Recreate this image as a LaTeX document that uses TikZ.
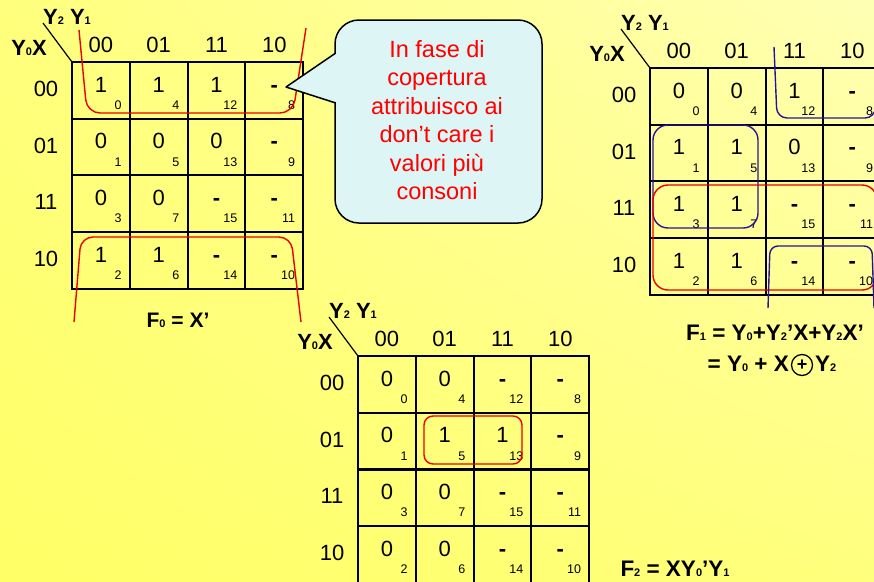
\documentclass[tikz,border=0pt]{standalone}
\usepackage{fontspec}
\setmainfont{Liberation Sans}
\usetikzlibrary{calc,shadings}

\definecolor{bgdeep}{RGB}{255,255,102}
\definecolor{bgmid}{RGB}{255,255,125}
\definecolor{bglight}{RGB}{255,255,180}
\definecolor{loopred}{RGB}{235,0,0}
\definecolor{loopblue}{RGB}{40,20,150}
\definecolor{notefill}{RGB}{222,245,245}
\definecolor{notered}{RGB}{255,0,0}

% don't-care entry
\newcommand\dc{\textbf{-}}
% small digit written after a variable name
\newcommand\lowidx[1]{{\fontsize{11}{11}\selectfont #1}}
% cell size of the Karnaugh maps
\def\cw{57.8}
\def\ch{56.7}

\tikzset{
  gridline/.style={line width=2pt, line cap=rect},
  cellval/.style={inner sep=0pt, anchor=base, font=\fontsize{22}{22}\selectfont},
  cellidx/.style={inner sep=0pt, anchor=base east, font=\fontsize{12.5}{12.5}\selectfont},
  hdr/.style={inner sep=0pt, font=\fontsize{22}{22}\selectfont},
  varlab/.style={inner sep=0pt, font=\bfseries\fontsize{22}{22}\selectfont},
  formula/.style={inner sep=0pt, font=\bfseries\fontsize{21}{21}\selectfont},
  bigformula/.style={inner sep=0pt, font=\bfseries\fontsize{22.5}{22.5}\selectfont},
  redloop/.style={draw=loopred, line width=1.4pt},
  blueloop/.style={draw=loopblue, line width=1.4pt},
}

% \kmap{name}{x of top-left corner}{y of top-left corner}{value/index pairs, row by row}
\newcommand\kmap[4]{%
  \begin{scope}[shift={(#2,#3)}]
    \coordinate (#1-nw) at (0,0);
    \foreach \kk in {0,...,4}{
      \draw[gridline] (0,{\kk*\ch}) -- ({4*\cw},{\kk*\ch});
      \draw[gridline] ({\kk*\cw},0) -- ({\kk*\cw},{4*\ch});
    }
    \foreach \cval/\cidx [count=\cnt from 0] in {#4}{
      \pgfmathtruncatemacro\kr{div(\cnt,4)}
      \pgfmathtruncatemacro\kc{mod(\cnt,4)}
      \node[cellval] (#1-v\cidx) at ({(\kc+0.5)*\cw},{\kr*\ch+30}) {\cval};
      \node[cellidx] (#1-i\cidx) at ({(\kc+1)*\cw-8},{\kr*\ch+47.5}) {\cidx};
    }
    \foreach \lab [count=\jj from 0] in {00,01,11,10}{
      \node[hdr] (#1-col\jj) at ({(\jj+0.5)*\cw},-17.5) {\lab};
      \node[hdr] (#1-row\jj) at (-26,{(\jj+0.5)*\ch-1.5}) {\lab};
    }
    \node[varlab] (#1-cols) at (-5,-45) {Y\lowidx{2} Y\lowidx{1}};
    \node[varlab] (#1-rows) at (-43,-14) {Y\lowidx{0}X};
    \draw[line width=1.2pt] (#1-nw) -- ++(-29,-39);
  \end{scope}}

\begin{document}
\begin{tikzpicture}[x=1pt, y=-1pt]
  % page background
  \shade[upper left=bgmid, upper right=bglight, lower left=bgdeep, lower right=bgmid]
    (0,0) rectangle (874,581);
  \useasboundingbox (0,0) rectangle (874,581);

  % F0 map
  \kmap{A}{72}{62}{1/0,1/4,1/12,\dc/8,0/1,0/5,0/13,\dc/9,0/3,0/7,\dc/15,\dc/11,1/2,1/6,\dc/14,\dc/10}
  % F1 map
  \kmap{B}{650}{68}{0/0,0/4,1/12,\dc/8,1/1,1/5,0/13,\dc/9,1/3,1/7,\dc/15,\dc/11,1/2,1/6,\dc/14,\dc/10}
  % F2 map
  \kmap{C}{358}{356}{0/0,0/4,\dc/12,\dc/8,0/1,1/5,1/13,\dc/9,0/3,0/7,\dc/15,\dc/11,0/2,0/6,\dc/14,\dc/10}
  \draw[line width=3.5pt] (358,{356+2*\ch}) -- ({358+4*\cw},{356+2*\ch});

  % coverings of F0
  \draw[redloop, rounded corners=13pt] (79,30) -- (87,113) -- (293,113) -- (306,28);
  \draw[redloop, rounded corners=12pt] (74,322) -- (81,237) -- (291,237) -- (301,322);

  % coverings of F1
  \draw[blueloop, rounded corners=10pt] (774,47) -- (777,118) -- (875,118) -- (879,40);
  \draw[blueloop, rounded corners=15pt] (653,125) rectangle (758,228);
  \draw[redloop, rounded corners=15pt] (653,185) rectangle (877,290);
  \draw[blueloop, rounded corners=8pt] (768,308) -- (770,246) -- (872,246) -- (874,308);

  % covering of F2
  \draw[redloop, rounded corners=9pt] (424,416) rectangle (522,464);

  % speech bubble
  \node[draw, line width=1.5pt, fill=notefill, rounded corners=24pt,
        minimum width=207pt, minimum height=203pt] (note) at (438.5,121.5) {};
  \coordinate (tip) at (286,87);
  \fill[notefill] (tip) -- (335.75,53) -- (338,53) -- (338,103) -- (335.75,103) -- cycle;
  \draw[line width=1.5pt, line join=round] (335.75,53) -- (tip) -- (335.75,103);
  \node[align=center, text=notered, inner sep=0pt, font=\fontsize{23.5}{28.5}\selectfont]
    (notebody) at (437,120) {In fase di\\copertura\\attribuisco ai\\don’t care i\\valori più\\consoni};

  % resulting expressions
  \node[formula] (f0) at (178,320) {F\lowidx{0} = X’};
  \node[bigformula] (f1a) at (775,333) {F\lowidx{1} = Y\lowidx{0}+Y\lowidx{2}’X+Y\lowidx{2}X’};
  \node[bigformula, anchor=east] (f1b) at (789,364) {= Y\lowidx{0} + X};
  \node[draw, circle, line width=1.3pt, minimum size=21pt, inner sep=0pt,
        font=\bfseries\fontsize{18}{18}\selectfont] (xor) at (802,365) {+};
  \node[bigformula, anchor=west] (f1c) at (815,364) {Y\lowidx{2}};
  \node[bigformula] (f2) at (675,569) {F\lowidx{2} = XY\lowidx{0}’Y\lowidx{1}};
\end{tikzpicture}
\end{document}
